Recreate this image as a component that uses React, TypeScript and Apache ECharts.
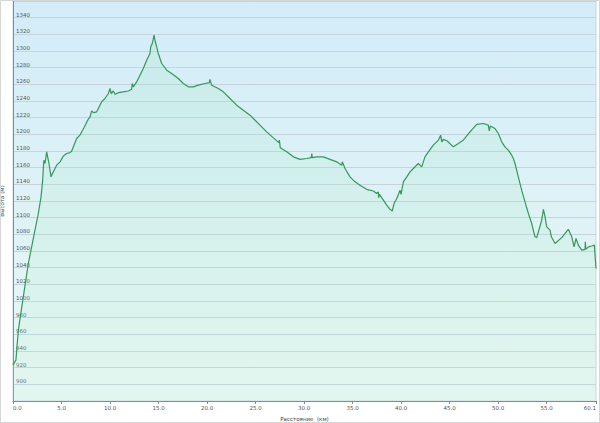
import React, { useEffect, useRef } from "react";
import * as echarts from "echarts";

const distanceKm: number[] = [
  0.0, 0.3, 0.55, 1.06, 1.58, 2.06, 2.61, 2.89, 3.06, 3.13, 3.18, 3.3, 3.47, 3.71, 3.92, 4.16, 4.5, 4.85,
  5.19, 5.53, 5.88, 6.05, 6.29, 6.56, 6.9, 7.18, 7.5, 7.75, 7.94, 8.11, 8.3, 8.63, 8.8, 9.14, 9.48, 9.83,
  10.0, 10.12, 10.34, 10.52, 10.86, 11.37, 11.89, 12.23, 12.3, 12.4, 12.75, 13.09, 13.43, 13.78, 14.12,
  14.2, 14.36, 14.54, 14.65, 14.81, 14.98, 15.33, 15.85, 16.36, 17.04, 17.56, 18.07, 18.59, 19.1, 19.79,
  20.24, 20.3, 20.48, 21.17, 21.68, 22.37, 23.06, 23.74, 24.43, 24.78, 26.15, 27.4, 27.46, 27.55, 28.22,
  28.9, 29.59, 30.28, 30.75, 30.8, 30.85, 31.31, 31.99, 32.68, 33.37, 33.89, 33.95, 34.23, 34.74, 35.26,
  35.77, 36.46, 37.15, 37.49, 37.66, 37.7, 37.77, 38.18, 38.53, 38.87, 39.1, 39.28, 39.56, 39.9, 40.0,
  40.24, 40.59, 40.93, 41.27, 41.78, 42.13, 42.47, 42.82, 43.33, 43.85, 44.09, 44.2, 44.36, 44.77, 45.39,
  45.91, 46.42, 47.11, 47.8, 48.49, 49.0, 49.1, 49.2, 49.69, 50.03, 50.38, 50.72, 51.06, 51.41, 51.58,
  51.75, 52.09, 52.44, 52.78, 53.13, 53.47, 53.81, 53.99, 54.26, 54.5, 54.68, 54.85, 55.02, 55.36, 55.5,
  55.88, 56.56, 57.25, 57.6, 57.84, 58.04, 58.28, 58.63, 58.97, 59.0, 59.05, 59.31, 59.66, 59.93, 60.1,
];

const elevationM: number[] = [
  923, 929, 965, 1005, 1045, 1073, 1105, 1125, 1145, 1160, 1169, 1165, 1179, 1165, 1149, 1155, 1163, 1167,
  1174, 1177, 1178, 1180, 1187, 1195, 1199, 1205, 1212, 1218, 1221, 1228, 1226, 1227, 1231, 1239, 1243, 1249,
  1255, 1249, 1252, 1248, 1250, 1251, 1252, 1254, 1261, 1257, 1263, 1271, 1279, 1289, 1297,
  1305, 1309, 1319, 1312, 1305, 1297, 1285, 1277, 1273, 1267, 1261, 1257, 1257, 1259, 1261,
  1262, 1266, 1259, 1255, 1251, 1243, 1235, 1229, 1223, 1219, 1203, 1190, 1193, 1184, 1179,
  1173, 1170, 1171, 1172, 1177, 1172, 1173, 1173, 1170, 1167, 1163, 1167, 1159, 1149, 1143,
  1139, 1134, 1132, 1129, 1131, 1124, 1128, 1121, 1115, 1110, 1108, 1117, 1123, 1133, 1128,
  1143, 1149, 1155, 1159, 1165, 1161, 1173, 1179, 1187, 1193, 1199, 1191, 1194, 1192, 1185,
  1189, 1193, 1203, 1212, 1213, 1211, 1204, 1210, 1207, 1201, 1191, 1185, 1181, 1175, 1171,
  1165, 1149, 1133, 1119, 1105, 1093, 1077, 1076, 1087, 1097, 1110, 1101, 1089, 1085, 1077,
  1069, 1076, 1086, 1077, 1065, 1075, 1067, 1061, 1062, 1071, 1062, 1065, 1066, 1067, 1039,
];

const xTickValues: number[] = [0, 5, 10, 15, 20, 25, 30, 35, 40, 45, 50, 55, 60.1];
const xAxisTitle = "Расстояние  (км)";
const yAxisTitle = "Высота (м)";

export default function App() {
  const ref = useRef<HTMLDivElement>(null);

  useEffect(() => {
    if (!ref.current) return;
    const chart = echarts.init(ref.current, null, { renderer: "svg" });
    const data = distanceKm.map((d, i) => [d, elevationM[i]]);
    const font = "DejaVu Sans";
    chart.setOption({
      animation: false,
      backgroundColor: "#ffffff",
      grid: {
        left: 13,
        right: 4,
        top: 1,
        bottom: 22,
        containLabel: false,
        outerBoundsMode: "none",
        show: true,
        borderColor: "#c9d6de",
        borderWidth: 1,
        backgroundColor: new echarts.graphic.LinearGradient(0, 0, 0, 1, [
          { offset: 0, color: "#d3ecf9" },
          { offset: 1, color: "#e9f8f4" },
        ]),
      },
      graphic: [
        {
          type: "rect",
          shape: { x: 0.5, y: 0.5, width: 599, height: 422 },
          style: { fill: "none", stroke: "#d6d6d6", lineWidth: 1 },
          silent: true,
          z: 100,
        },
      ],
      xAxis: {
        type: "value",
        min: 0,
        max: 60.1,
        name: xAxisTitle,
        nameLocation: "middle",
        nameGap: 12,
        nameTextStyle: { fontFamily: font, fontSize: 5.5, color: "#444" },
        axisLine: { show: true, lineStyle: { color: "#8a8a8a", width: 1 } },
        axisTick: {
          show: true,
          length: 3,
          customValues: xTickValues,
          lineStyle: { color: "#8a8a8a" },
        },
        axisLabel: {
          customValues: xTickValues,
          formatter: (v: number) => v.toFixed(1),
          fontFamily: font,
          fontSize: 5.5,
          color: "#555",
          margin: 4,
          alignMinLabel: "left",
          alignMaxLabel: "right",
        },
        splitLine: { show: false },
      },
      yAxis: {
        type: "value",
        min: 880,
        max: 1360,
        interval: 20,
        name: yAxisTitle,
        nameLocation: "middle",
        nameGap: 3,
        nameTextStyle: { fontFamily: font, fontSize: 5.5, color: "#444" },
        axisLine: { show: true, lineStyle: { color: "#8a8a8a", width: 1 } },
        axisTick: { show: false },
        axisLabel: {
          inside: true,
          margin: 3,
          align: "left",
          verticalAlign: "bottom",
          fontFamily: font,
          fontSize: 5.5,
          color: "#555",
          showMinLabel: false,
          showMaxLabel: false,
          formatter: (v: number) => String(v),
        },
        splitLine: { show: true, lineStyle: { color: "#c4d3dc", width: 1 } },
      },
      series: [
        {
          type: "line",
          data,
          showSymbol: false,
          symbol: "none",
          lineStyle: { color: "#35985a", width: 1.2 },
          areaStyle: {
            origin: "start",
            color: new echarts.graphic.LinearGradient(0, 0, 0, 1, [
              { offset: 0, color: "rgba(150,225,185,0.28)" },
              { offset: 1, color: "rgba(190,240,210,0.25)" },
            ]),
          },
          z: 3,
        },
      ],
    });
    return () => chart.dispose();
  }, []);

  return (
    <div
      ref={ref}
      style={{ position: "absolute", left: 0, top: 0, width: 600, height: 423 }}
    />
  );
}
